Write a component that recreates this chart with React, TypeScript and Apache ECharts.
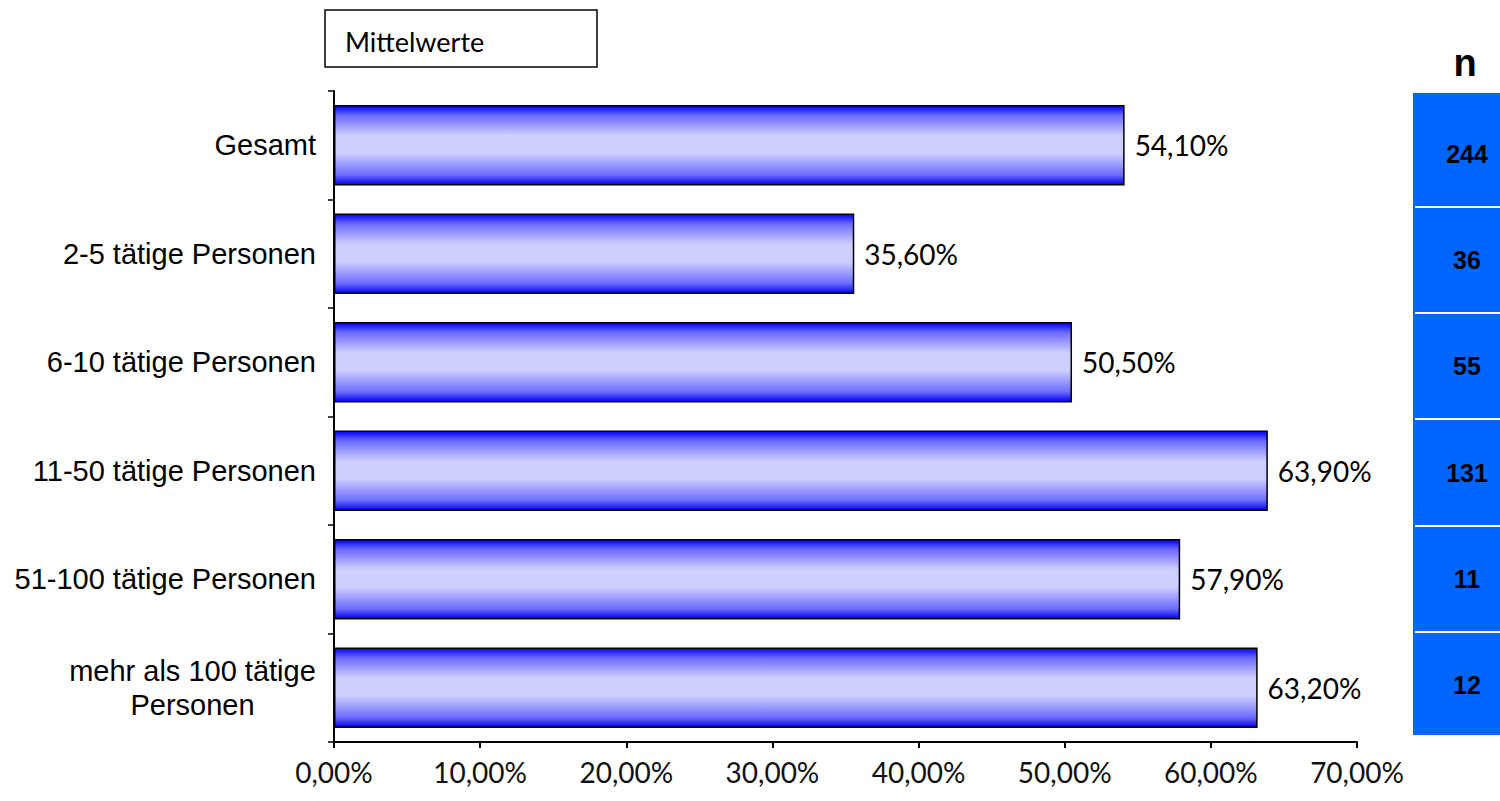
import React, { useEffect, useRef } from "react";
import * as echarts from "echarts";

const categories = [
  "Gesamt",
  "2-5 tätige Personen",
  "6-10 tätige Personen",
  "11-50 tätige Personen",
  "51-100 tätige Personen",
  "mehr als 100 tätige\nPersonen",
];
const values = [54.1, 35.6, 50.5, 63.9, 57.9, 63.2];
const nValues = [244, 36, 55, 131, 11, 12];
const xTicks = [0, 10, 20, 30, 40, 50, 60, 70];
const seriesName = "Mittelwerte";

const fmtPct = (v: number) => v.toFixed(2).replace(".", ",") + "%";

export default function App() {
  const ref = useRef<HTMLDivElement>(null);
  useEffect(() => {
    if (!ref.current) return;
    const chart = echarts.init(ref.current, undefined, { renderer: "svg" });

    const boxTop = 93;
    const boxBottom = 735;
    const rowsTop = 100.5;
    const rowH = 106.3;
    const tableLeft = 1413;
    const tableGraphics: any[] = [
      {
        type: "rect",
        shape: { x: tableLeft, y: boxTop, width: 1500 - tableLeft, height: boxBottom - boxTop },
        style: { fill: "#0066ff" },
      },
      {
        type: "text",
        x: 1465,
        y: 63,
        style: {
          text: "n",
          font: "bold 38px 'Liberation Sans', Arial, sans-serif",
          fill: "#000",
          align: "center",
          verticalAlign: "middle",
        },
      },
    ];
    nValues.forEach((n, i) => {
      if (i > 0) {
        const y = Math.round(rowsTop + rowH * i);
        tableGraphics.push({
          type: "line",
          shape: { x1: tableLeft + 2, y1: y, x2: 1500, y2: y },
          style: { stroke: "#ffffff", lineWidth: 2 },
        });
      }
      tableGraphics.push({
        type: "text",
        x: 1467,
        y: rowsTop + rowH * i + rowH / 2,
        style: {
          text: String(n),
          font: "bold 25px 'Liberation Sans', Arial, sans-serif",
          fill: "#000",
          align: "center",
          verticalAlign: "middle",
        },
      });
    });

    const option: any = {
      animation: false,
      grid: { left: 334, right: 143, top: 91, bottom: 59, containLabel: false },
      xAxis: {
        type: "value",
        min: 0,
        max: 70,
        interval: 10,
        splitLine: { show: false },
        axisLine: { show: true, lineStyle: { color: "#000", width: 2 } },
        axisTick: { show: true, length: 6, inside: false, lineStyle: { color: "#000", width: 2 } },
        axisLabel: {
          formatter: (v: number) => (xTicks.includes(v) ? fmtPct(v) : ""),
          fontFamily: "Lato, 'Noto Sans', sans-serif",
          fontSize: 28,
          color: "#111",
          margin: 16,
        },
      },
      yAxis: {
        type: "category",
        data: categories,
        inverse: true,
        axisLine: { show: true, lineStyle: { color: "#000", width: 2 } },
        axisTick: { show: true, length: 6, lineStyle: { color: "#000", width: 1.5 } },
        axisLabel: {
          fontFamily: "'Liberation Sans', Arial, sans-serif",
          fontSize: 29,
          color: "#000",
          margin: 18,
          lineHeight: 34,
          formatter: (v: string) =>
            v.includes("\n")
              ? v
                  .split("\n")
                  .map((s) => "{c|" + s + "}")
                  .join("\n")
              : v,
          rich: {
            c: {
              width: 247,
              align: "center",
              fontFamily: "'Liberation Sans', Arial, sans-serif",
              fontSize: 29,
              color: "#000",
              lineHeight: 34,
            },
          },
        },
      },
      series: [
        {
          name: seriesName,
          type: "bar",
          data: values,
          barWidth: "74%",
          itemStyle: {
            color: new echarts.graphic.LinearGradient(0, 0, 0, 1, [
              { offset: 0, color: "#0000ff" },
              { offset: 0.12, color: "#6a6aff" },
              { offset: 0.38, color: "#cfcfff" },
              { offset: 0.6, color: "#cfcfff" },
              { offset: 0.88, color: "#6a6aff" },
              { offset: 1, color: "#0000ee" },
            ]),
            borderColor: "#000",
            borderWidth: 1.5,
          },
          label: {
            show: true,
            position: "right",
            distance: 10,
            formatter: (p: any) => fmtPct(p.value),
            fontFamily: "Lato, 'Noto Sans', sans-serif",
            fontSize: 28,
            color: "#000",
          },
        },
      ],
      graphic: [
        {
          type: "rect",
          shape: { x: 325, y: 10, width: 272, height: 57 },
          style: { fill: "#fff", stroke: "#000", lineWidth: 1.5 },
        },
        {
          type: "text",
          x: 345,
          y: 41,
          style: {
            text: seriesName,
            font: "27px Lato, 'Noto Sans', sans-serif",
            fill: "#000",
            verticalAlign: "middle",
          },
        },
        ...tableGraphics,
      ],
    };
    chart.setOption(option);
    return () => chart.dispose();
  }, []);
  return <div ref={ref} style={{ width: 1500, height: 801, position: "absolute", left: 0, top: 0 }} />;
}
